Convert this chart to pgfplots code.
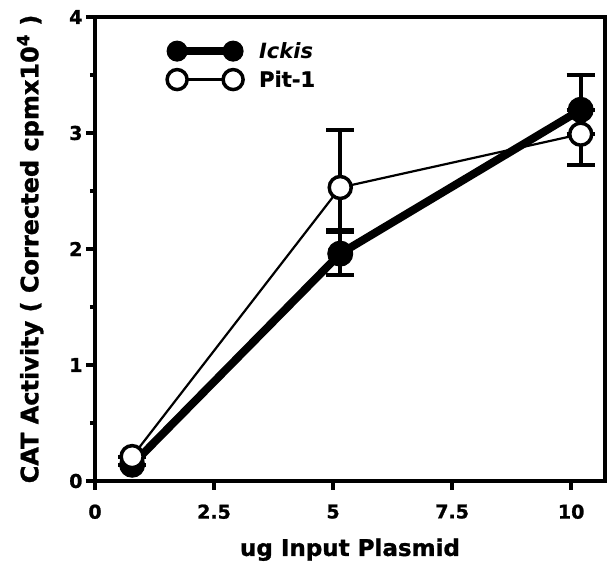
\documentclass[border=0pt]{standalone}
\usepackage{pgfplots}
\pgfplotsset{compat=1.18}
\usepackage{fontspec}
\setmainfont{DejaVu Sans}[BoldFeatures={FakeBold=1.2}]

\pgfplotstableread{
x y ep em
0.78 0.14 0 0
5.15 1.96 0.19 0.18
10.2 3.20 0.30 0
}\ickis
\pgfplotstableread{
x y ep em
0.78 0.21 0 0
5.15 2.53 0.50 0.37
10.2 2.99 0 0.27
}\pitone

\begin{document}
\begin{tikzpicture}
\path[use as bounding box] (-95pt,-91pt) rectangle (513pt,481pt);
\begin{axis}[
  at={(0pt,0pt)}, anchor=south west,
  scale only axis, width=510pt, height=464pt,
  xmin=0, xmax=10.71, ymin=0, ymax=4,
  clip=false,
  axis line style={line width=4.5pt},
  tick pos=left,
  tick align=outside,
  xtick={0,2.5,5,7.5,10},
  xticklabels={0,2.5,5,7.5,10},
  ytick={0,1,2,3,4},
  yticklabels={0,1,2,3,4},
  minor ytick={0.5,1.5,2.5,3.5},
  major tick length=9pt,
  minor tick length=5pt,
  tick style={line width=4pt, black},
  ticklabel style={font=\bfseries\fontsize{19}{19}\selectfont},
  xticklabel style={yshift=-11pt},
  yticklabel style={xshift=0pt},
  xlabel={ug Input Plasmid},
  ylabel={CAT Activity ( Corrected cpmx10\textsuperscript{4} )},
  xlabel style={font=\bfseries\fontsize{23}{23}\selectfont, at={(axis description cs:0.5,-0.148)}, anchor=center},
  ylabel style={font=\bfseries\fontsize{24}{24}\selectfont, at={(axis description cs:-0.127,0.5)}, anchor=center},
  legend image code/.code={\draw[#1, mark size=10pt] plot coordinates {(0pt,0pt) (56pt,0pt)};},
  legend style={at={(rel axis cs:0.141,0.95)}, anchor=north west, draw=none, fill=none, inner sep=0pt, row sep=7pt, column sep=14pt, font=\bfseries\fontsize{21}{21}\selectfont},
  legend cell align=left,
]
\addplot[black, line width=8pt, mark=*, mark size=12.5pt, mark options={fill=black, line width=1pt},
  error bars/.cd, y dir=both, y explicit,
  error bar style={line width=4pt, black},
  error mark options={rotate=90, mark size=14pt, line width=4pt, black}]
  table[x=x, y=y, y error plus=ep, y error minus=em] {\ickis};
\addlegendentry{\itshape Ickis}
\addplot[black, line width=2.2pt, mark=*, mark size=11pt, mark options={fill=white, draw=black, line width=3.5pt},
  error bars/.cd, y dir=both, y explicit,
  error bar style={line width=4pt, black},
  error mark options={rotate=90, mark size=14pt, line width=4pt, black}]
  table[x=x, y=y, y error plus=ep, y error minus=em] {\pitone};
\addlegendentry{Pit-1}
\end{axis}
\end{tikzpicture}
\end{document}
